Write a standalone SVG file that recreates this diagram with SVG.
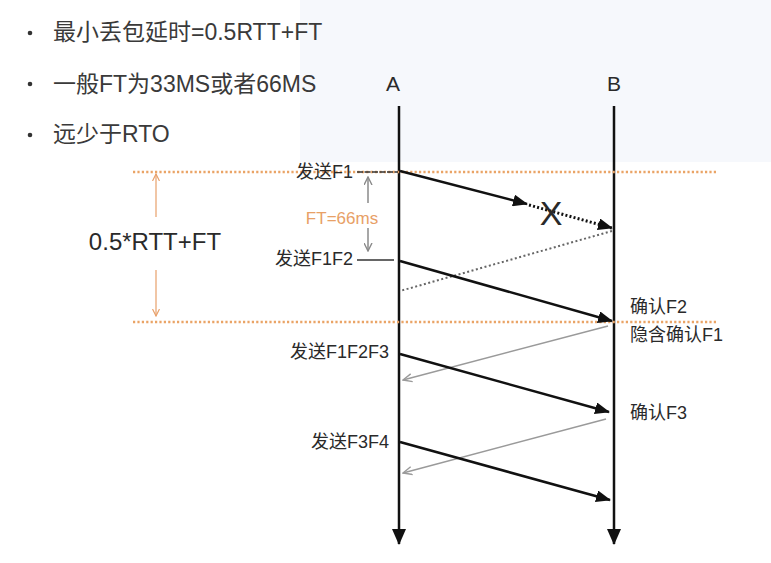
<svg xmlns="http://www.w3.org/2000/svg" width="771" height="563" viewBox="0 0 771 563">
<style>
.t{font-family:"Liberation Sans","Noto Sans CJK SC",sans-serif;fill:#2a2a2a}
.bul{font-size:23px;fill:#3a3a3a}
.lbl{font-size:18px}
.life{stroke:#111;stroke-width:2.5;fill:none}
.msg{stroke:#111;stroke-width:2.5;fill:none}
.dot{stroke:#111;stroke-width:3;stroke-dasharray:2 2.2;fill:none}
.gdot{stroke:#666;stroke-width:2;stroke-dasharray:2 2.5;fill:none}
.ack{stroke:#9a9a9a;stroke-width:1.5;fill:none}
.odot{stroke:#eaa466;stroke-width:2.5;stroke-dasharray:2.2 2.2;fill:none}
.oline{stroke:#e8a06a;stroke-width:1.2;fill:none}
.gline{stroke:#8a8a8a;stroke-width:1.5;fill:none}
</style>
<defs>
<marker id="ab" markerUnits="userSpaceOnUse" markerWidth="15" markerHeight="12" refX="14" refY="6" orient="auto"><path d="M0,0 L15,6 L0,12 z" fill="#111"/></marker>
<marker id="av" markerUnits="userSpaceOnUse" markerWidth="14" markerHeight="16" refX="7" refY="15" orient="0"><path d="M0,0 L7,16 L14,0 z" fill="#111"/></marker>
<marker id="ag" markerUnits="userSpaceOnUse" markerWidth="10" markerHeight="10" refX="9" refY="5" orient="auto"><path d="M0,1 L9,5 L0,9" stroke="#9a9a9a" stroke-width="1.4" fill="none"/></marker>
<marker id="ao" markerUnits="userSpaceOnUse" markerWidth="8" markerHeight="8" refX="7" refY="4" orient="auto"><path d="M0,0.5 L7,4 L0,7.5" stroke="#e8a06a" stroke-width="1.2" fill="none"/></marker>
<marker id="agr" markerUnits="userSpaceOnUse" markerWidth="9" markerHeight="9" refX="8" refY="4.5" orient="auto"><path d="M0,0.5 L8,4.5 L0,8.5" stroke="#8a8a8a" stroke-width="1.4" fill="none"/></marker>
</defs>
<rect width="771" height="563" fill="#ffffff"/>
<rect x="300" y="0" width="471" height="162" fill="#f6f8fc"/>

<g id="bullets">
<circle cx="30" cy="33" r="2.3" fill="#333"/>
<text class="t bul" x="53" y="40">最小丢包延时=0.5RTT+FT</text>
<circle cx="30" cy="84" r="2.3" fill="#333"/>
<text class="t bul" x="53" y="92">一般FT为33MS或者66MS</text>
<circle cx="30" cy="135" r="2.3" fill="#333"/>
<text class="t bul" x="53" y="142">远少于RTO</text>
</g>

<g id="lifelineA">
<text class="t" x="393" y="91" font-size="21" text-anchor="middle">A</text>
<line class="life" x1="399" y1="106" x2="399" y2="544" marker-end="url(#av)"/>
</g>
<g id="lifelineB">
<text class="t" x="614" y="91" font-size="21" text-anchor="middle">B</text>
<line class="life" x1="614" y1="106" x2="614" y2="544" marker-end="url(#av)"/>
</g>

<g id="guides">
<line class="odot" x1="133" y1="172" x2="718" y2="172"/>
<line class="odot" x1="133" y1="322" x2="718" y2="322"/>
</g>

<g id="rtt-span">
<line class="oline" x1="156" y1="217" x2="156" y2="174" marker-end="url(#ao)"/>
<line class="oline" x1="156" y1="270" x2="156" y2="316" marker-end="url(#ao)"/>
<text class="t" x="155" y="250" font-size="24" text-anchor="middle" fill="#222">0.5*RTT+FT</text>
</g>

<g id="ft-span">
<line class="gline" x1="368" y1="203" x2="368" y2="177" marker-end="url(#agr)"/>
<line class="gline" x1="368" y1="228" x2="368" y2="251" marker-end="url(#agr)"/>
<text class="t" x="342" y="224" font-size="17" text-anchor="middle" style="fill:#e8a066">FT=66ms</text>
</g>

<g id="send-labels">
<text class="t lbl" x="353" y="178" text-anchor="end">发送F1</text>
<line x1="357" y1="172" x2="398" y2="172" stroke="#333" stroke-width="1.5" stroke-dasharray="6 1.5"/>
<text class="t lbl" x="353" y="265" text-anchor="end">发送F1F2</text>
<line x1="357" y1="260" x2="394" y2="260" stroke="#333" stroke-width="1.5"/>
<text class="t lbl" x="389" y="358" text-anchor="end">发送F1F2F3</text>
<text class="t lbl" x="389" y="448" text-anchor="end">发送F3F4</text>
</g>

<g id="ack-labels">
<text class="t lbl" x="630" y="313">确认F2</text>
<text class="t lbl" x="630" y="341">隐含确认F1</text>
<text class="t lbl" x="630" y="419">确认F3</text>
</g>

<g id="connectors">
<line class="msg" x1="400" y1="171" x2="527" y2="204" marker-end="url(#ab)"/>
<line class="dot" x1="529" y1="205" x2="612" y2="228" marker-end="url(#ab)"/>
<line class="gdot" x1="612" y1="231" x2="400" y2="291"/>
<line class="msg" x1="400" y1="261" x2="612" y2="321" marker-end="url(#ab)"/>
<line class="ack" x1="608" y1="326" x2="403" y2="380" marker-end="url(#ag)"/>
<line class="msg" x1="400" y1="354" x2="609" y2="412" marker-end="url(#ab)"/>
<line class="ack" x1="606" y1="419" x2="403" y2="473" marker-end="url(#ag)"/>
<line class="msg" x1="400" y1="442" x2="610" y2="500" marker-end="url(#ab)"/>
</g>

<g id="loss">
<text class="t" x="551" y="225" font-size="34" text-anchor="middle" fill="#111">X</text>
</g>
</svg>
